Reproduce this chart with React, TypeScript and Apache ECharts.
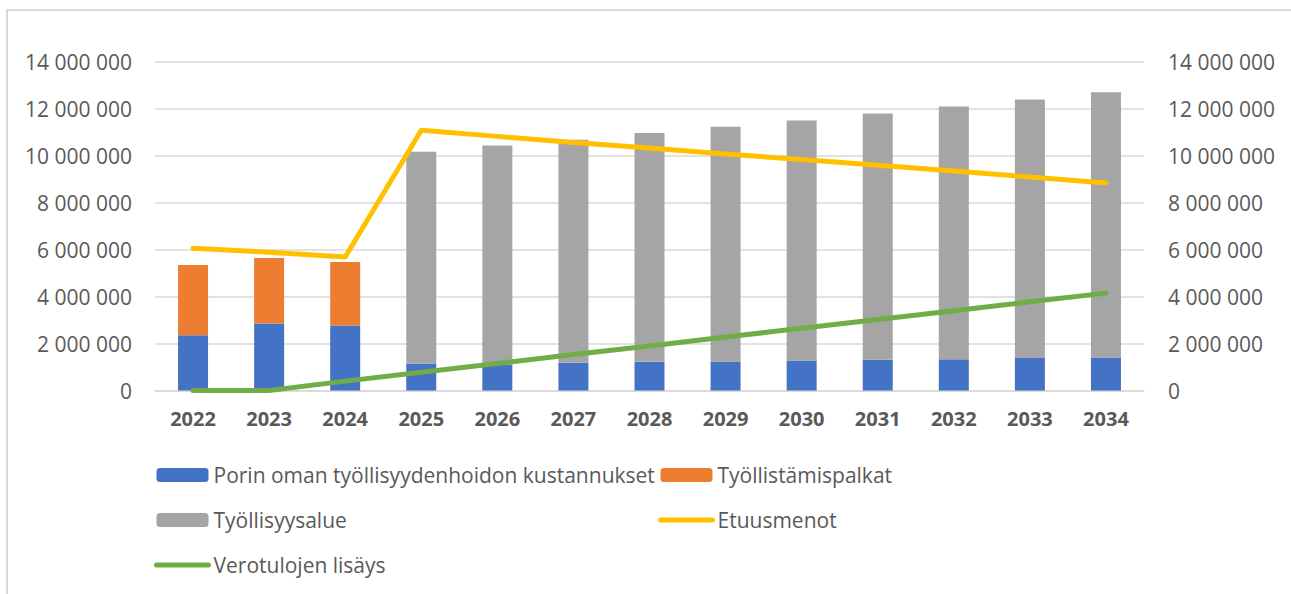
import React, { useEffect, useRef } from "react";
import * as echarts from "echarts";

const years = ["2022", "2023", "2024", "2025", "2026", "2027", "2028", "2029", "2030", "2031", "2032", "2033", "2034"];
const porinOma = [2350000, 2860000, 2770000, 1150000, 1100000, 1180000, 1220000, 1230000, 1280000, 1310000, 1330000, 1380000, 1410000];
const tyollistamispalkat = [3000000, 2790000, 2710000, 0, 0, 0, 0, 0, 0, 0, 0, 0, 0];
const tyollisyysalue = [0, 0, 0, 9030000, 9340000, 9510000, 9750000, 10010000, 10230000, 10490000, 10770000, 11020000, 11300000];
const etuusmenot = [6060000, 5890000, 5690000, 11090000, 10830000, 10570000, 10330000, 10080000, 9840000, 9600000, 9350000, 9100000, 8840000];
const verotulojenLisays = [0, 0, 400000, 780000, 1150000, 1530000, 1900000, 2280000, 2650000, 3030000, 3400000, 3780000, 4150000];

const names = [
  "Porin oman työllisyydenhoidon kustannukset",
  "Työllistämispalkat",
  "Työllisyysalue",
  "Etuusmenot",
  "Verotulojen lisäys",
];

const FONT = "'Open Sans', 'Liberation Sans', sans-serif";
const TEXT = "#595959";
const GRID = "#d9d9d9";
const YELLOW = "#FFC000";
const GREEN = "#70AD47";

const fmt = (v: number) => String(v).replace(/\B(?=(\d{3})+(?!\d))/g, " ");

export default function App() {
  const ref = useRef<HTMLDivElement>(null);
  useEffect(() => {
    if (!ref.current) return;
    const chart = echarts.init(ref.current, undefined, { renderer: "svg" });
    const legendCommon = {
      orient: "vertical" as const,
      top: 463,
      padding: 0,
      itemGap: 21,
      itemWidth: 52,
      itemHeight: 14,
      textStyle: { color: TEXT, fontSize: 21, fontFamily: FONT, lineHeight: 24 },
    };
    const lineLegend = (name: string, color: string) => ({
      name,
      itemStyle: { opacity: 0 },
      lineStyle: { color, width: 5, cap: "round" },
    });
    chart.setOption({
      animation: false,
      backgroundColor: "#ffffff",
      graphic: [
        {
          type: "rect",
          shape: { x: 7, y: 10, width: 1300, height: 600 },
          style: { fill: "none", stroke: GRID, lineWidth: 2 },
          silent: true,
        },
      ],
      grid: { left: 155, right: 147, top: 62, bottom: 203.5, containLabel: false },
      legend: [
        { ...legendCommon, left: 154, data: [names[0], names[2], lineLegend(names[4], GREEN)] },
        { ...legendCommon, left: 658, data: [names[1], lineLegend(names[3], YELLOW)] },
      ],
      xAxis: {
        type: "category",
        data: years,
        axisLine: { lineStyle: { color: GRID, width: 1.5 } },
        axisTick: { show: false },
        axisLabel: { color: TEXT, fontSize: 20, fontWeight: "bold", fontFamily: FONT, margin: 18 },
      },
      yAxis: [
        {
          type: "value",
          min: 0,
          max: 14000000,
          interval: 2000000,
          axisLine: { show: false },
          axisTick: { show: false },
          splitLine: { lineStyle: { color: GRID, width: 1.5 } },
          axisLabel: { color: TEXT, fontSize: 21, fontFamily: FONT, margin: 23, formatter: fmt },
        },
        {
          type: "value",
          min: 0,
          max: 14000000,
          interval: 2000000,
          position: "right",
          axisLine: { show: false },
          axisTick: { show: false },
          splitLine: { show: false },
          axisLabel: { color: TEXT, fontSize: 21, fontFamily: FONT, margin: 24, formatter: fmt },
        },
      ],
      series: [
        { name: names[0], type: "bar", stack: "a", barWidth: 30, data: porinOma, itemStyle: { color: "#4472C4" } },
        { name: names[1], type: "bar", stack: "a", barWidth: 30, data: tyollistamispalkat, itemStyle: { color: "#ED7D31" } },
        { name: names[2], type: "bar", stack: "a", barWidth: 30, data: tyollisyysalue, itemStyle: { color: "#A5A5A5" } },
        {
          name: names[3],
          type: "line",
          yAxisIndex: 1,
          data: etuusmenot,
          symbol: "none",
          itemStyle: { color: YELLOW },
          lineStyle: { color: YELLOW, width: 5, cap: "round", join: "round" },
        },
        {
          name: names[4],
          type: "line",
          yAxisIndex: 1,
          data: verotulojenLisays,
          symbol: "none",
          itemStyle: { color: GREEN },
          lineStyle: { color: GREEN, width: 5, cap: "round", join: "round" },
        },
      ],
    });
    return () => chart.dispose();
  }, []);
  return <div ref={ref} style={{ position: "absolute", left: 0, top: 0, width: 1291, height: 594 }} />;
}
